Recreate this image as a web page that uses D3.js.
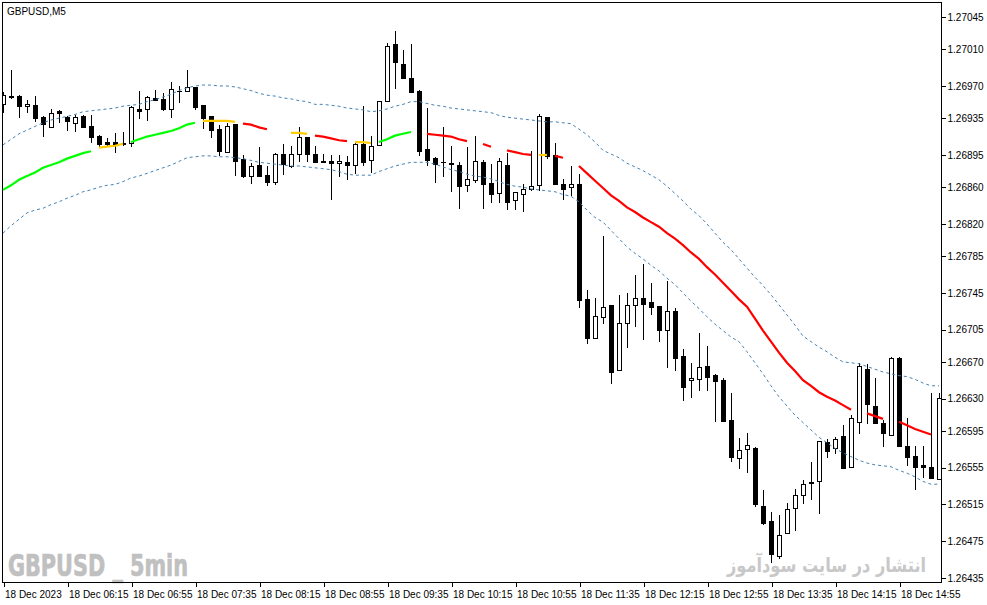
<!doctype html>
<html lang="en">
<head>
<meta charset="UTF-8">
<script src="https://cdnjs.cloudflare.com/ajax/libs/d3/7.8.5/d3.min.js"></script>
<title>GBPUSD,M5</title>
<style>
  body { margin: 0; background: #fff; }
  svg text { font-family: "Liberation Sans", Arial, sans-serif; }
</style>
</head>
<body>
<div id="chart"></div>
<script>
const W = 987, H = 605;
const plot = {left: 2, top: 2, right: 941, bottom: 582};

// bottom axis labels, one every 8 bars (40 min)
const timeLabels = ["18 Dec 2023", "18 Dec 06:15", "18 Dec 06:55", "18 Dec 07:35", "18 Dec 08:15",
  "18 Dec 08:55", "18 Dec 09:35", "18 Dec 10:15", "18 Dec 10:55", "18 Dec 11:35", "18 Dec 12:15",
  "18 Dec 12:55", "18 Dec 13:35", "18 Dec 14:15", "18 Dec 14:55"];
const priceTicks = ["1.27045", "1.27010", "1.26970", "1.26935", "1.26895", "1.26860", "1.26820",
  "1.26785", "1.26745", "1.26705", "1.26670", "1.26630", "1.26595", "1.26555", "1.26515",
  "1.26475", "1.26435"];

const open = [1.26950,1.26959,1.26959,1.26948,1.26949,1.26936,1.26925,1.26943,1.26936,1.26930,
  1.26937,1.26926,1.26916,1.26909,1.26909,1.26908,1.26908,1.26945,1.26945,1.26957,
  1.26956,1.26945,1.26965,1.26965,1.26969,1.26949,1.26937,1.26923,1.26898,1.26929,
  1.26891,1.26872,1.26884,1.26873,1.26866,1.26896,1.26883,1.26896,1.26915,1.26896,
  1.26888,1.26888,1.26886,1.26887,1.26884,1.26907,1.26889,1.26906,1.26954,1.27016,
  1.26994,1.26979,1.26965,1.26901,1.26892,1.26887,1.26886,1.26884,1.26862,1.26868,
  1.26887,1.26864,1.26854,1.26884,1.26846,1.26852,1.26858,1.26862,1.26936,1.26895,
  1.26863,1.26860,1.26863,1.26738,1.26696,1.26719,1.26732,1.26661,1.26712,1.26732,
  1.26739,1.26735,1.26731,1.26705,1.26725,1.26676,1.26650,1.26651,1.26665,1.26656,
  1.26650,1.26607,1.26565,1.26575,1.26576,1.26513,1.26497,1.26459,1.26484,1.26511,
  1.26525,1.26538,1.26540,1.26583,1.26576,1.26589,1.26556,1.26605,1.26662,1.26622,
  1.26604,1.26591,1.26674,1.26578,1.26568,1.26558,1.26556,1.26543];
const high = [1.26963,1.26987,1.26960,1.26955,1.26959,1.26937,1.26945,1.26944,1.26937,1.26938,
  1.26938,1.26938,1.26917,1.26913,1.26919,1.26920,1.26948,1.26965,1.26959,1.26966,
  1.26962,1.26974,1.26970,1.26987,1.26969,1.26949,1.26937,1.26928,1.26930,1.26929,
  1.26895,1.26886,1.26904,1.26883,1.26897,1.26907,1.26905,1.26925,1.26915,1.26905,
  1.26896,1.26895,1.26895,1.26894,1.26909,1.26948,1.26916,1.26954,1.27017,1.27030,
  1.27009,1.27016,1.26966,1.26946,1.26893,1.26925,1.26905,1.26887,1.26904,1.26916,
  1.26889,1.26885,1.26892,1.26897,1.26855,1.26863,1.26899,1.26940,1.26936,1.26908,
  1.26869,1.26883,1.26874,1.26748,1.26739,1.26807,1.26732,1.26743,1.26745,1.26765,
  1.26776,1.26756,1.26731,1.26758,1.26729,1.26684,1.26669,1.26701,1.26687,1.26657,
  1.26653,1.26636,1.26587,1.26593,1.26577,1.26531,1.26507,1.26504,1.26517,1.26532,
  1.26542,1.26561,1.26584,1.26586,1.26588,1.26601,1.26612,1.26669,1.26668,1.26652,
  1.26607,1.26675,1.26675,1.26609,1.26578,1.26578,1.26636,1.26636];
const low = [1.26942,1.26957,1.26936,1.26942,1.26932,1.26916,1.26925,1.26931,1.26922,1.26921,
  1.26925,1.26909,1.26905,1.26906,1.26898,1.26906,1.26905,1.26935,1.26933,1.26955,
  1.26944,1.26936,1.26953,1.26965,1.26945,1.26924,1.26915,1.26895,1.26898,1.26873,
  1.26871,1.26865,1.26872,1.26862,1.26863,1.26874,1.26882,1.26888,1.26888,1.26887,
  1.26887,1.26847,1.26872,1.26869,1.26875,1.26884,1.26877,1.26906,1.26954,1.26968,
  1.26979,1.26963,1.26895,1.26884,1.26866,1.26872,1.26856,1.26837,1.26856,1.26866,
  1.26837,1.26844,1.26844,1.26836,1.26836,1.26834,1.26857,1.26857,1.26892,1.26863,
  1.26847,1.26851,1.26730,1.26690,1.26696,1.26712,1.26647,1.26661,1.26686,1.26709,
  1.26695,1.26722,1.26693,1.26664,1.26661,1.26629,1.26632,1.26639,1.26639,1.26606,
  1.26606,1.26562,1.26555,1.26550,1.26513,1.26494,1.26452,1.26457,1.26484,1.26487,
  1.26517,1.26521,1.26506,1.26567,1.26571,1.26555,1.26556,1.26593,1.26603,1.26603,
  1.26578,1.26591,1.26578,1.26558,1.26532,1.26545,1.26544,1.26543];
const close = [1.26960,1.26958,1.26948,1.26950,1.26935,1.26929,1.26941,1.26941,1.26932,1.26936,
  1.26925,1.26915,1.26907,1.26907,1.26906,1.26907,1.26947,1.26943,1.26958,1.26955,
  1.26945,1.26967,1.26965,1.26969,1.26947,1.26935,1.26922,1.26899,1.26926,1.26888,
  1.26872,1.26883,1.26872,1.26866,1.26896,1.26885,1.26896,1.26915,1.26896,1.26887,
  1.26887,1.26886,1.26888,1.26884,1.26907,1.26887,1.26905,1.26954,1.27013,1.26996,
  1.26979,1.26963,1.26899,1.26889,1.26885,1.26887,1.26885,1.26861,1.26869,1.26888,
  1.26863,1.26852,1.26888,1.26844,1.26855,1.26858,1.26861,1.26937,1.26894,1.26863,
  1.26858,1.26863,1.26737,1.26696,1.26720,1.26730,1.26659,1.26712,1.26732,1.26739,
  1.26733,1.26730,1.26705,1.26725,1.26674,1.26643,1.26652,1.26664,1.26654,1.26649,
  1.26606,1.26567,1.26574,1.26580,1.26515,1.26495,1.26461,1.26482,1.26510,1.26525,
  1.26537,1.26539,1.26584,1.26573,1.26586,1.26555,1.26609,1.26665,1.26624,1.26603,
  1.26593,1.26674,1.26578,1.26567,1.26556,1.26556,1.26544,1.26631];

// indicator: middle line, upper and lower band
const ma = [1.26857,1.26862,1.26868,1.26872,1.26876,1.26881,1.26884,1.26887,1.26891,1.26894,
  1.26897,1.26899,1.26903,1.26904,1.26905,1.26907,1.26909,1.26912,1.26915,1.26917,
  1.26919,1.26921,1.26924,1.26928,1.26930,1.26932,1.26932,1.26932,1.26932,1.26931,
  1.26929,1.26928,1.26925,1.26923,1.26921,1.26920,1.26919,1.26919,1.26918,1.26916,
  1.26915,1.26913,1.26911,1.26910,1.26909,1.26909,1.26908,1.26909,1.26912,1.26916,
  1.26918,1.26920,1.26919,1.26918,1.26917,1.26916,1.26915,1.26912,1.26910,1.26908,
  1.26907,1.26904,1.26903,1.26900,1.26898,1.26896,1.26895,1.26895,1.26895,1.26894,
  1.26892,1.26887,1.26883,1.26875,1.26867,1.26859,1.26851,1.26845,1.26838,1.26833,
  1.26827,1.26822,1.26817,1.26810,1.26804,1.26797,1.26789,1.26782,1.26773,1.26765,
  1.26756,1.26747,1.26738,1.26730,1.26717,1.26704,1.26692,1.26680,1.26669,1.26660,
  1.26650,1.26644,1.26637,1.26632,1.26628,1.26623,1.26618,1.26615,1.26614,1.26611,
  1.26608,1.26607,1.26605,1.26601,1.26597,1.26594,1.26591,1.26588];
const upper = [1.26906,1.26912,1.26918,1.26922,1.26926,1.26930,1.26933,1.26935,1.26937,1.26939,
  1.26942,1.26943,1.26944,1.26945,1.26946,1.26948,1.26949,1.26950,1.26953,1.26955,
  1.26958,1.26961,1.26965,1.26968,1.26970,1.26971,1.26971,1.26970,1.26970,1.26969,
  1.26967,1.26965,1.26962,1.26960,1.26959,1.26957,1.26956,1.26954,1.26953,1.26950,
  1.26950,1.26949,1.26948,1.26946,1.26945,1.26944,1.26942,1.26943,1.26945,1.26948,
  1.26950,1.26953,1.26953,1.26951,1.26949,1.26948,1.26946,1.26945,1.26944,1.26943,
  1.26942,1.26941,1.26938,1.26936,1.26935,1.26934,1.26933,1.26932,1.26931,1.26931,
  1.26930,1.26929,1.26923,1.26917,1.26909,1.26900,1.26896,1.26892,1.26886,1.26882,
  1.26878,1.26873,1.26868,1.26861,1.26853,1.26845,1.26836,1.26829,1.26820,1.26810,
  1.26800,1.26792,1.26782,1.26772,1.26762,1.26753,1.26743,1.26732,1.26721,1.26710,
  1.26698,1.26692,1.26686,1.26681,1.26675,1.26670,1.26669,1.26668,1.26665,1.26662,
  1.26659,1.26657,1.26655,1.26654,1.26651,1.26647,1.26644,1.26644];
const lower = [1.26810,1.26818,1.26825,1.26832,1.26835,1.26837,1.26841,1.26844,1.26848,1.26851,
  1.26855,1.26857,1.26860,1.26862,1.26863,1.26866,1.26870,1.26872,1.26875,1.26878,
  1.26881,1.26884,1.26888,1.26892,1.26893,1.26894,1.26894,1.26893,1.26893,1.26892,
  1.26891,1.26889,1.26887,1.26886,1.26885,1.26884,1.26883,1.26883,1.26882,1.26881,
  1.26880,1.26879,1.26877,1.26874,1.26873,1.26873,1.26873,1.26877,1.26880,1.26883,
  1.26885,1.26887,1.26887,1.26887,1.26885,1.26882,1.26879,1.26877,1.26874,1.26872,
  1.26871,1.26869,1.26866,1.26863,1.26861,1.26860,1.26858,1.26857,1.26856,1.26855,
  1.26852,1.26850,1.26844,1.26835,1.26827,1.26822,1.26813,1.26804,1.26795,1.26788,
  1.26782,1.26775,1.26769,1.26761,1.26754,1.26745,1.26736,1.26728,1.26719,1.26711,
  1.26704,1.26697,1.26692,1.26681,1.26669,1.26657,1.26644,1.26632,1.26622,1.26612,
  1.26604,1.26596,1.26588,1.26582,1.26576,1.26571,1.26567,1.26563,1.26560,1.26558,
  1.26557,1.26556,1.26552,1.26549,1.26545,1.26540,1.26537,1.26537];
// slope colour of the middle line per bar: g rising, y flat, r falling
const maColor = "gggggggggggg" + "yyyy" + "ggggggggg" + "yyyyy" + "rrrr" + "g" + "r" + "yyy" +
  "rrrrr" + "yyy" + "ggggg" + "y" + "rrrrrr" + "y" + "rr" + "y" + "rrrr" + "yy" + "rr" + "y" +
  "rrrrrrrrrrrrrrrrrrrrrrrrrrrrrrrrrrr" + "y" + "rrr" + "y" + "rrrrr" + "y";
const colorMap = {g: "#00ff00", y: "#ffcc00", r: "#ff0000"};

const svg = d3.select("#chart").append("svg")
  .attr("width", W).attr("height", H)
  .style("display", "block");

svg.append("rect").attr("width", W).attr("height", H).attr("fill", "#fff");

const x = d3.scaleLinear().domain([0, open.length - 1]).range([3, 939]);
const y = d3.scaleLinear().domain([1.26435, 1.27045]).range([578, 17]);

svg.append("clipPath").attr("id", "clip")
  .append("rect")
  .attr("x", plot.left + 1).attr("y", plot.top + 1)
  .attr("width", plot.right - plot.left - 1).attr("height", plot.bottom - plot.top - 1);

// watermark texts
svg.append("text")
  .attr("x", 8).attr("y", 576)
  .attr("textLength", 180).attr("lengthAdjust", "spacingAndGlyphs")
  .style("font-family", "'Liberation Sans Narrow', 'DejaVu Sans Condensed', sans-serif")
  .style("font-weight", "bold").style("font-size", "31px")
  .attr("fill", "#c0c0c0").attr("stroke", "#c0c0c0").attr("stroke-width", 0.7)
  .text("GBPUSD _ 5min");

svg.append("text")
  .attr("x", 826.5).attr("y", 572)
  .attr("text-anchor", "middle")
  .attr("textLength", 199).attr("lengthAdjust", "spacingAndGlyphs")
  .style("font-family", "'DejaVu Sans', sans-serif")
  .style("font-weight", "bold").style("font-size", "20px")
  .attr("fill", "#c8c8c8")
  .text("انتشار در سایت سودآموز");

const chart = svg.append("g").attr("clip-path", "url(#clip)")
  .attr("shape-rendering", "crispEdges");

const bars = d3.range(open.length);
const px = i => Math.round(x(i));
const py = v => Math.round(y(v));

// wicks
chart.selectAll("line.wick").data(bars).join("line")
  .attr("class", "wick")
  .attr("x1", i => px(i) + 0.5).attr("x2", i => px(i) + 0.5)
  .attr("y1", i => py(high[i])).attr("y2", i => py(low[i]) + 1)
  .attr("stroke", "#000").attr("stroke-width", 1);

// bear bodies
chart.selectAll("rect.bear").data(bars.filter(i => close[i] < open[i])).join("rect")
  .attr("class", "bear")
  .attr("x", i => px(i) - 2).attr("width", 5)
  .attr("y", i => py(open[i]))
  .attr("height", i => Math.max(1, py(close[i]) - py(open[i]) + 1))
  .attr("fill", "#000");

// bull bodies
chart.selectAll("rect.bull").data(bars.filter(i => close[i] > open[i])).join("rect")
  .attr("class", "bull")
  .attr("x", i => px(i) - 1.5).attr("width", 4)
  .attr("y", i => py(close[i]) + 0.5)
  .attr("height", i => Math.max(0, py(open[i]) - py(close[i])))
  .attr("fill", "#fff").attr("stroke", "#000").attr("stroke-width", 1);

// doji
chart.selectAll("line.doji").data(bars.filter(i => close[i] === open[i])).join("line")
  .attr("class", "doji")
  .attr("x1", i => px(i) - 2).attr("x2", i => px(i) + 3)
  .attr("y1", i => py(open[i]) + 0.5).attr("y2", i => py(open[i]) + 0.5)
  .attr("stroke", "#000");

// bands
const ind = svg.append("g").attr("clip-path", "url(#clip)");
[upper, lower].forEach(band => {
  ind.append("path")
    .datum(bars)
    .attr("fill", "none")
    .attr("stroke", "#4682b4")
    .attr("stroke-width", 1)
    .attr("stroke-dasharray", "3,3")
    .attr("d", d3.line().x(i => x(i)).y(i => y(band[i])));
});

// middle line in coloured runs
const runs = [];
let cur = [0];
for (let i = 1; i < ma.length; i++) {
  if (maColor[i] === maColor[i - 1]) cur.push(i);
  else { runs.push(cur); cur = [i]; }
}
runs.push(cur);

ind.selectAll("path.ma").data(runs.filter(r => r.length > 1)).join("path")
  .attr("class", "ma")
  .attr("fill", "none")
  .attr("stroke", r => colorMap[maColor[r[0]]])
  .attr("stroke-width", 2.2)
  .attr("d", d3.line().x(i => x(i)).y(i => y(ma[i])));

// frame
svg.append("rect")
  .attr("x", plot.left + 0.5).attr("y", plot.top + 0.5)
  .attr("width", plot.right - plot.left).attr("height", plot.bottom - plot.top)
  .attr("fill", "none").attr("stroke", "#000").attr("shape-rendering", "crispEdges");

// price axis
const yAxis = d3.axisRight(y)
  .tickValues(priceTicks.map(Number))
  .tickFormat((d, i) => priceTicks[i])
  .tickSize(4).tickPadding(2);
const ya = svg.append("g")
  .attr("transform", `translate(${plot.right + 0.5},0)`)
  .call(yAxis);
ya.select(".domain").remove();
ya.selectAll("line").attr("stroke", "#000").attr("shape-rendering", "crispEdges");
ya.selectAll("text").attr("fill", "#000").style("font-size", "10px");

// time axis
const xAxis = d3.axisBottom(x)
  .tickValues(timeLabels.map((d, i) => i * 8))
  .tickFormat((d, i) => timeLabels[i])
  .tickSize(4).tickPadding(4);
const xa = svg.append("g")
  .attr("transform", `translate(0.5,${plot.bottom + 0.5})`)
  .call(xAxis);
xa.select(".domain").remove();
xa.selectAll("line").attr("stroke", "#000").attr("shape-rendering", "crispEdges");
xa.selectAll("text").attr("fill", "#000").style("font-size", "10px")
  .attr("text-anchor", "start").attr("x", 1);

// symbol title
svg.append("text")
  .attr("x", 7).attr("y", 15)
  .style("font-size", "10px").attr("fill", "#000")
  .text("GBPUSD,M5");
</script>
</body>
</html>
